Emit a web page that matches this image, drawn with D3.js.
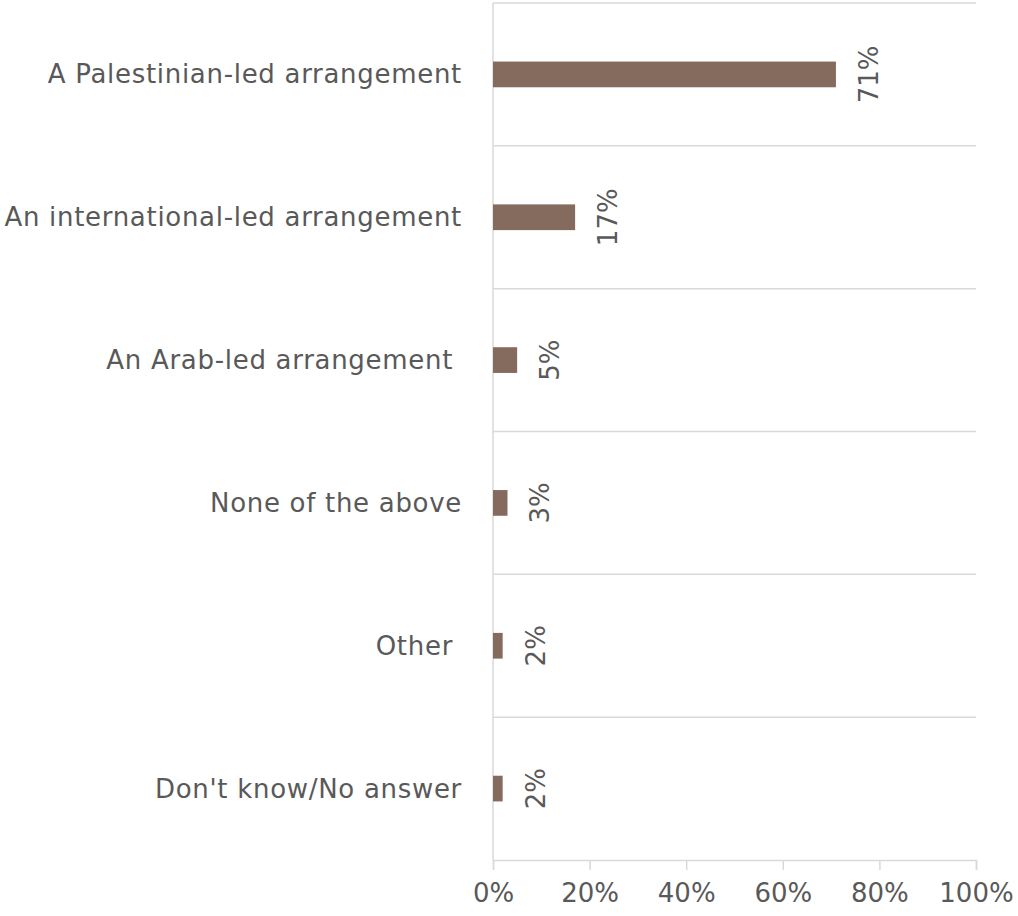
<!DOCTYPE html>
<html>
<head>
<meta charset="utf-8">
<script src="https://cdn.jsdelivr.net/npm/d3@7"></script>
<style>
  html, body { margin: 0; padding: 0; background: #fff; }
  svg { display: block; }
  text { white-space: pre; }
</style>
</head>
<body>
<svg id="chart" width="1018" height="916"></svg>
<script>
const categories = [
  "A Palestinian-led arrangement",
  "An international-led arrangement",
  "An Arab-led arrangement ",
  "None of the above",
  "Other ",
  "Don't know/No answer"
];
const values = [0.71, 0.17, 0.05, 0.03, 0.02, 0.02];
const valueLabels = ["71%", "17%", "5%", "3%", "2%", "2%"];
const xTicks = [0, 0.2, 0.4, 0.6, 0.8, 1.0];

const svg = d3.select("#chart");
const font = "'DejaVu Sans', sans-serif";
const textColor = "#595959";
const gridColor = "#d9d9d9";
const barColor = "#846b5d";

const x = d3.scaleLinear().domain([0, 1]).range([493, 976]);
const y = d3.scaleBand().domain(categories).range([3, 860]).padding(0);
const barFrac = 0.18;

// horizontal gridlines at band boundaries
const boundaries = categories.map(c => y(c));
svg.append("g").selectAll("line").data(boundaries).join("line")
  .attr("x1", x(0)).attr("x2", x(1))
  .attr("y1", d => d).attr("y2", d => d)
  .attr("stroke", gridColor).attr("stroke-width", 1.5);

// vertical axis line
svg.append("line")
  .attr("x1", x(0)).attr("x2", x(0))
  .attr("y1", y.range()[0]).attr("y2", y.range()[1])
  .attr("stroke", gridColor).attr("stroke-width", 1.5);

// bottom axis
const xAxis = d3.axisBottom(x).tickValues(xTicks)
  .tickFormat(d3.format(".0%")).tickSize(10).tickPadding(14);
const gx = svg.append("g").attr("transform", `translate(0,${y.range()[1]})`).call(xAxis);
gx.select(".domain").attr("stroke", gridColor).attr("stroke-width", 1.5);
gx.selectAll(".tick line").attr("stroke", gridColor).attr("stroke-width", 1.5);
gx.selectAll(".tick text").attr("fill", textColor)
  .style("font-family", font).style("font-size", "26px");

// bars
const bh = y.bandwidth() * barFrac;
svg.append("g").selectAll("rect").data(categories).join("rect")
  .attr("x", x(0))
  .attr("y", c => y(c) + y.bandwidth() / 2 - bh / 2)
  .attr("width", (c, i) => x(values[i]) - x(0))
  .attr("height", bh)
  .attr("fill", barColor);

// category labels
svg.append("g").selectAll("text").data(categories).join("text")
  .attr("x", 462)
  .attr("y", c => y(c) + y.bandwidth() / 2)
  .attr("text-anchor", "end")
  .attr("dominant-baseline", "central")
  .attr("fill", textColor)
  .style("font-family", font).style("font-size", "26px")
  .style("letter-spacing", "0.7px")
  .attr("xml:space", "preserve")
  .text(c => c);

// value labels (rotated)
svg.append("g").selectAll("text").data(categories).join("text")
  .attr("transform", (c, i) => `translate(${x(values[i]) + 42},${y(c) + y.bandwidth() / 2}) rotate(-90)`)
  .attr("text-anchor", "middle")
  .attr("fill", textColor)
  .style("font-family", font).style("font-size", "26px")
  .text((c, i) => valueLabels[i]);
</script>
</body>
</html>
